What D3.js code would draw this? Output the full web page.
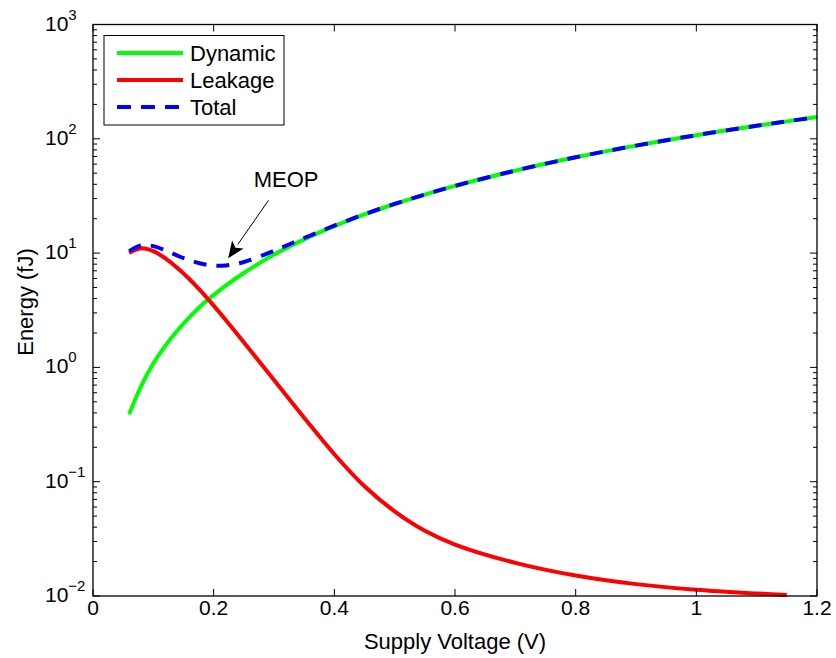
<!DOCTYPE html>
<html>
<head>
<meta charset="utf-8">
<script src="https://cdn.jsdelivr.net/npm/d3@7"></script>
<style>
  body { margin: 0; background: #fff; }
  svg text { font-family: "Liberation Sans", Arial, sans-serif; fill: #000; }
</style>
</head>
<body>
<div id="chart"></div>
<script>
// supply voltage (V)
const voltage = [0.06, 0.08, 0.10, 0.12, 0.14, 0.16, 0.18, 0.20, 0.22, 0.25, 0.30, 0.35,
                 0.40, 0.45, 0.50, 0.55, 0.60, 0.70, 0.80, 0.90, 1.00, 1.10, 1.15, 1.20];
// energy (fJ)
const dynamicE = [0.39, 0.69, 1.08, 1.55, 2.1, 2.75, 3.5, 4.3, 5.2, 6.7, 9.7, 13.2,
                  17.2, 21.8, 26.9, 32.5, 38.7, 52.7, 68.9, 87.2, 107.6, 130, 142, 155];
const leakageE = [10.0, 11.0, 10.4, 9.0, 7.4, 5.9, 4.57, 3.47, 2.6, 1.66, 0.776, 0.363,
                  0.174, 0.0912, 0.055, 0.0372, 0.0282, 0.0195, 0.0151, 0.0127, 0.01135, 0.01052, 0.0102];
const totalE = [10.4, 11.7, 11.5, 10.55, 9.5, 8.65, 8.07, 7.77, 7.8, 8.36, 10.48, 13.56,
                17.37, 21.9, 26.95, 32.5, 38.7, 52.7, 68.9, 87.2, 107.6, 130, 142, 155];

const xTicks = [0, 0.2, 0.4, 0.6, 0.8, 1, 1.2];
const yExponents = [-2, -1, 0, 1, 2, 3];
const seriesNames = ["Dynamic", "Leakage", "Total"];
const seriesColors = ["#00ff00", "#ff0000", "#0000ff"];

const W = 836, H = 658;
const plot = { left: 93, right: 817, top: 24.5, bottom: 596 };

const svg = d3.select("#chart").append("svg")
    .attr("width", W).attr("height", H);

const x = d3.scaleLinear().domain([0, 1.2]).range([plot.left, plot.right]);
const y = d3.scaleLog().domain([1e-2, 1e3]).range([plot.bottom, plot.top]);

// curves
const line = d3.line()
    .x(d => x(d[0]))
    .y(d => y(d[1]))
    .curve(d3.curveCatmullRom.alpha(0.5));

const dynData = voltage.map((v, i) => [v, dynamicE[i]]);
const leakData = leakageE.map((e, i) => [voltage[i], e]);
const totData = voltage.map((v, i) => [v, totalE[i]]);

svg.append("path").datum(dynData).attr("d", line)
    .attr("fill", "none").attr("stroke", seriesColors[0]).attr("stroke-width", 4);
svg.append("path").datum(leakData).attr("d", line)
    .attr("fill", "none").attr("stroke", seriesColors[1]).attr("stroke-width", 4);
svg.append("path").datum(totData).attr("d", line)
    .attr("fill", "none").attr("stroke", seriesColors[2]).attr("stroke-width", 4)
    .attr("stroke-dasharray", "13,10");

// box
svg.append("rect")
    .attr("x", plot.left).attr("y", plot.top)
    .attr("width", plot.right - plot.left).attr("height", plot.bottom - plot.top)
    .attr("fill", "none").attr("stroke", "#000").attr("stroke-width", 1.3);

// x ticks (bottom and top, pointing inward)
const tickG = svg.append("g").attr("stroke", "#000").attr("stroke-width", 1);
xTicks.forEach(t => {
  tickG.append("line").attr("x1", x(t)).attr("x2", x(t)).attr("y1", plot.bottom).attr("y2", plot.bottom - 7);
  tickG.append("line").attr("x1", x(t)).attr("x2", x(t)).attr("y1", plot.top).attr("y2", plot.top + 7);
});
svg.selectAll(".xlab").data(xTicks).enter().append("text")
    .attr("x", d => x(d)).attr("y", 615)
    .attr("text-anchor", "middle").attr("font-size", 21)
    .text(d => d3.format("~g")(d));

// y ticks, major + minor, both sides
yExponents.forEach(e => {
  const v = Math.pow(10, e);
  tickG.append("line").attr("x1", plot.left).attr("x2", plot.left + 7).attr("y1", y(v)).attr("y2", y(v));
  tickG.append("line").attr("x1", plot.right).attr("x2", plot.right - 7).attr("y1", y(v)).attr("y2", y(v));
  if (e < 3) {
    for (let m = 2; m <= 9; m++) {
      const mv = m * v;
      tickG.append("line").attr("x1", plot.left).attr("x2", plot.left + 4).attr("y1", y(mv)).attr("y2", y(mv));
      tickG.append("line").attr("x1", plot.right).attr("x2", plot.right - 4).attr("y1", y(mv)).attr("y2", y(mv));
    }
  }
});
const yl = svg.selectAll(".ylab").data(yExponents).enter().append("text")
    .attr("x", 45).attr("y", d => y(Math.pow(10, d)) + 6)
    .attr("font-size", 21);
yl.append("tspan").text("10");
yl.append("tspan").attr("dy", -11).attr("font-size", 15)
    .text(d => d < 0 ? "\u2212" + (-d) : d);

// axis labels
svg.append("text")
    .attr("x", (plot.left + plot.right) / 2).attr("y", 649)
    .attr("text-anchor", "middle").attr("font-size", 22)
    .text("Supply Voltage (V)");
svg.append("text")
    .attr("transform", "translate(33," + 302 + ") rotate(-90)")
    .attr("text-anchor", "middle").attr("font-size", 22)
    .text("Energy (fJ)");

// MEOP annotation
const arrowFrom = [0.291, 29], arrowTo = [0.224, 9.0];
const x0 = x(arrowFrom[0]), y0 = y(arrowFrom[1]);
const x1 = x(arrowTo[0]), y1 = y(arrowTo[1]);
const ang = Math.atan2(y1 - y0, x1 - x0);
const headLen = 17, headW = 7;
const bx = x1 - headLen * Math.cos(ang), by = y1 - headLen * Math.sin(ang);
svg.append("line").attr("x1", x0).attr("y1", y0).attr("x2", bx).attr("y2", by)
    .attr("stroke", "#000").attr("stroke-width", 1);
svg.append("path")
    .attr("d", d3.line()([
      [x1, y1],
      [bx + headW * Math.sin(ang), by - headW * Math.cos(ang)],
      [x1 - headLen * 0.75 * Math.cos(ang), y1 - headLen * 0.75 * Math.sin(ang)],
      [bx - headW * Math.sin(ang), by + headW * Math.cos(ang)]
    ]) + "Z")
    .attr("fill", "#000");
svg.append("text")
    .attr("x", x(0.32)).attr("y", y(39) + 1)
    .attr("text-anchor", "middle").attr("font-size", 22)
    .text("MEOP");

// legend
const lg = svg.append("g");
lg.append("rect").attr("x", 104).attr("y", 35.5).attr("width", 180).attr("height", 89.5)
    .attr("fill", "#fff").attr("stroke", "#000").attr("stroke-width", 1);
seriesNames.forEach((name, i) => {
  const ry = 53 + i * 27;
  const l = lg.append("line").attr("x1", 117).attr("x2", 183).attr("y1", ry).attr("y2", ry)
      .attr("stroke", seriesColors[i]).attr("stroke-width", 4);
  if (name === "Total") l.attr("stroke-dasharray", "14,10");
  lg.append("text").attr("x", 190).attr("y", ry + 8).attr("font-size", 22).text(name);
});
</script>
</body>
</html>
